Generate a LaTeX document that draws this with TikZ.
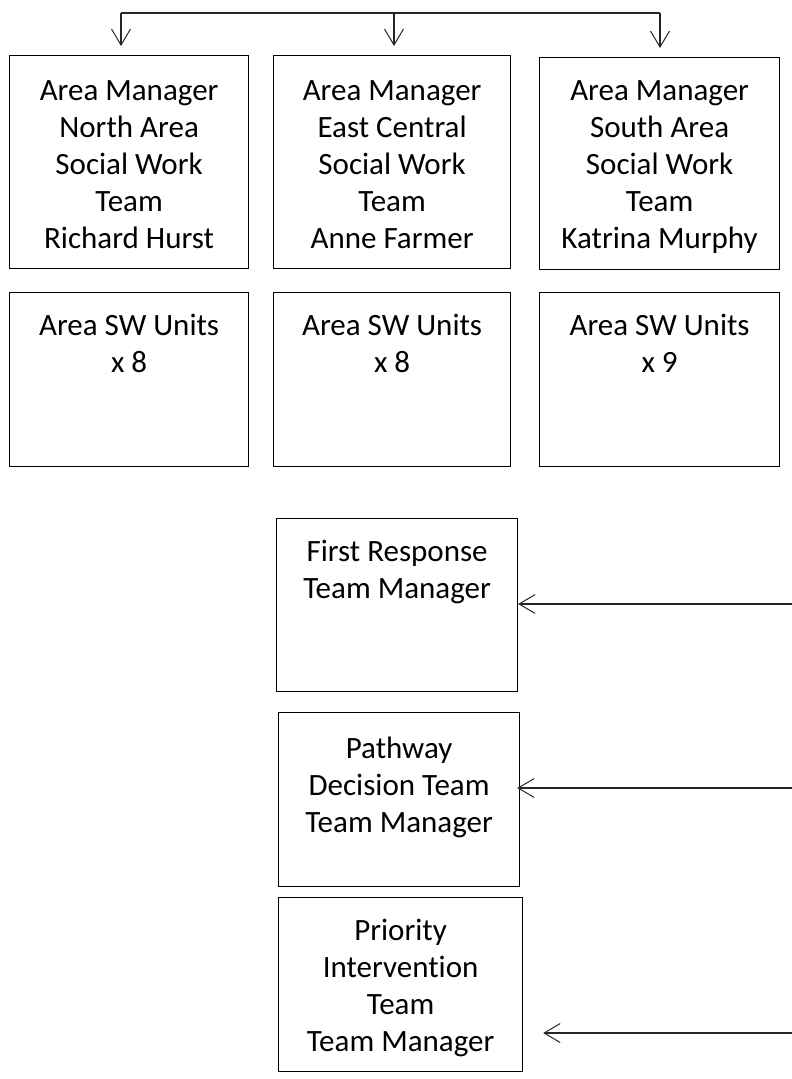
\documentclass[tikz,border=0pt]{standalone}
\usepackage{fontspec}
\setmainfont{Carlito}[Ligatures={NoCommon}]
\usetikzlibrary{arrows.meta}
\definecolor{dgrey}{rgb}{0.15,0.15,0.15}
\tikzset{
  teambox/.style={draw=black, line width=1.2pt, inner sep=0pt, anchor=north west},
  barb/.style={draw=dgrey, line width=1.1pt, -{Straight Barb[length=16pt,width=19pt,line width=1pt]}}
}
% box text: width, height, top gap, lines
\newcommand{\boxlines}[4]{\parbox[t][#2][t]{#1}{\centering\fontsize{31}{37}\selectfont\vspace*{#3}\strut #4}}

\begin{document}
\begin{tikzpicture}[x=1pt,y=-1pt]
\useasboundingbox (0,0) rectangle (792,1079);
% area managers
\node[teambox] (north) at (9,55) {\boxlines{239pt}{213pt}{19pt}{Area Manager\\North Area\\Social Work\\Team\\Richard Hurst}};
\node[teambox] (east) at (273,55) {\boxlines{237pt}{213pt}{19pt}{Area Manager\\East Central\\Social Work\\Team\\Anne Farmer}};
\node[teambox] (south) at (539,57) {\boxlines{240pt}{212pt}{17pt}{Area Manager\\South Area\\Social Work\\Team\\Katrina Murphy}};
% area units
\node[teambox] (northsw) at (9,292) {\boxlines{239pt}{174pt}{17pt}{Area SW Units\\x 8}};
\node[teambox] (eastsw) at (273,292) {\boxlines{237pt}{174pt}{17pt}{Area SW Units\\x 8}};
\node[teambox] (southsw) at (539,292) {\boxlines{240pt}{174pt}{17pt}{Area SW Units\\x 9}};
% central teams
\node[teambox] (frt) at (276,518) {\boxlines{241pt}{173pt}{17pt}{First Response\\Team Manager}};
\node[teambox] (pdt) at (278,712) {\boxlines{241pt}{174pt}{20pt}{Pathway\\Decision Team\\Team Manager}};
\node[teambox] (pit) at (278,897) {\boxlines{244pt}{174pt}{17pt}{Priority\\Intervention\\Team\\Team Manager}};
% top bus
\coordinate (busL) at (121,13);
\coordinate (busM) at (394,13);
\coordinate (busR) at (660,13);
\draw[dgrey, line width=1.1pt] (busL) -- (busR);
\foreach \c/\b in {busL/north, busM/east, busR/south} {
    \draw[barb, shorten >=9pt] (\c) -- (\c |- \b.north);
}
% arrows from the right
\coordinate (frin) at (792,604);
\coordinate (pdin) at (792,788);
\coordinate (piin) at (792,1033);
\draw[barb] (frin) -- (frin -| frt.east);
\draw[barb, shorten >=-3pt] (pdin) -- (pdin -| pdt.east);
\draw[barb, shorten >=20pt] (piin) -- (piin -| pit.east);
\end{tikzpicture}
\end{document}
